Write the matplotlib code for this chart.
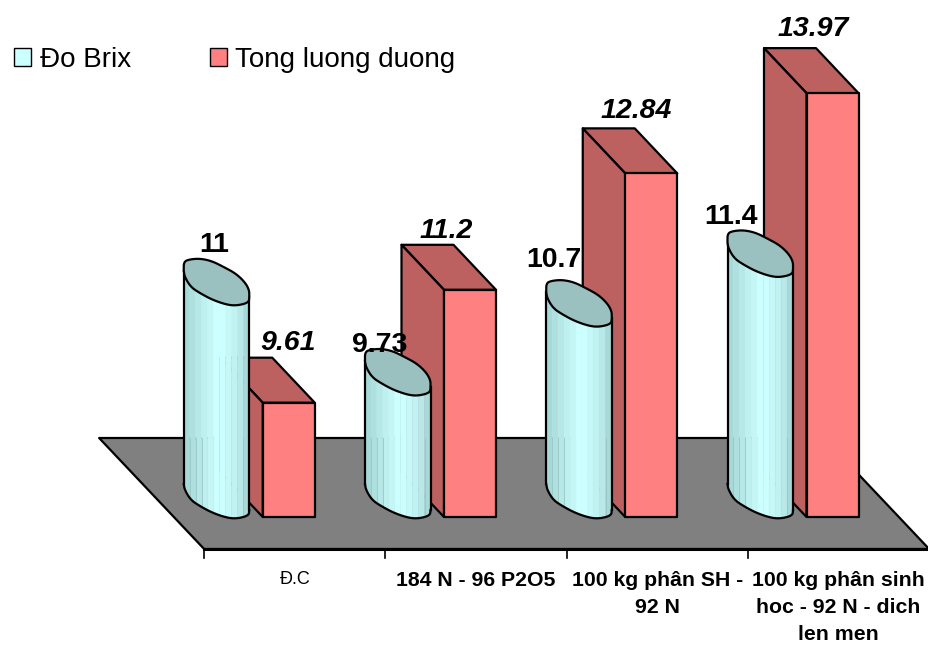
import numpy as np
import matplotlib
matplotlib.use("Agg")
import matplotlib.pyplot as plt
from matplotlib.patches import Patch

categories = ["Đ.C", "184 N - 96 P2O5", "100 kg phân SH -\n92 N", "100 kg phân sinh\nhoc - 92 N - dich\nlen men"]
brix = [11, 9.73, 10.7, 11.4]
tong_luong_duong = [9.61, 11.2, 12.84, 13.97]
brix_labels = ["11", "9.73", "10.7", "11.4"]
tld_labels = ["9.61", "11.2", "12.84", "13.97"]

# scale of the plot area, in pixels per category / per unit
PX_X = 181.25
PX_Y = 71.0
Y_BASE = 8

# label nudges from the bar anchor, in pixels
brix_label_dx = [-81, -96, -103, -107]
brix_label_dy = [59, 49, 65, 59]
tld_label_dx = [-7, -30, -21, -25]
tld_label_dy = [60, 59, 62, 64]

band_colors = ["#a8d9d9", "#aee0e0", "#b6e8e8", "#bef0f0", "#c4f6f6", "#ccffff",
               "#ccffff", "#c6f8f8", "#c0f2f2", "#b8e8e8", "#a8d8d8"]

# outline of the slanted end cap in pixels: x from the left side, y above the lowest point
cap_upper = [(0, 33), (0, 42), (5, 44.5), (16, 45.5), (28, 43), (40, 37), (52, 30.5), (61, 22), (65.5, 14), (65.5, 7)]
cap_lower = [(0, 33), (1, 27), (7, 17), (16, 11), (29, 4), (44, -1), (54, -1.5), (65, 1.5), (65.5, 7)]

plt.rcParams["font.family"] = ["Liberation Sans", "DejaVu Sans"]

fig = plt.figure(figsize=(9.29, 6.46), dpi=100)
ax = fig.add_axes([0, 0, 1, 1])
ax.set_xlim(-294.75 / PX_X, (929 - 294.75) / PX_X)
ax.set_ylim(Y_BASE - 129 / PX_Y, Y_BASE + 517 / PX_Y)
ax.axis("off")


def pt(cat, value, dx=0.0, dy=0.0):
    # category/value position shifted by a pixel offset (dy points up)
    return cat + dx / PX_X, value + dy / PX_Y


def poly(points, color, lw=1.6, z=2):
    xs, ys = zip(*points)
    ax.fill(xs, ys, facecolor=color, edgecolor="black", linewidth=lw, joinstyle="round", zorder=z)


def smooth(points, rounds=3):
    # corner cutting on an open line, the end points stay put
    pts = np.array(points, dtype=float)
    for _ in range(rounds):
        q = 0.75 * pts[:-1] + 0.25 * pts[1:]
        r = 0.25 * pts[:-1] + 0.75 * pts[1:]
        mid = np.empty((len(q) * 2, 2))
        mid[0::2] = q
        mid[1::2] = r
        pts = np.vstack([pts[0], mid, pts[-1]])
    return pts


upper_line = smooth(cap_upper)
lower_line = smooth(cap_lower)


def red_bar(cat, value, z):
    left, right = -32, 20
    depth_x, depth_y = -42.5, 45
    poly([pt(cat, value, left, 0), pt(cat, value, left + depth_x, depth_y),
          pt(cat, value, right + depth_x, depth_y), pt(cat, value, right, 0)], "#bd6060", z=z)
    poly([pt(cat, Y_BASE, left, 0), pt(cat, Y_BASE, left + depth_x, depth_y),
          pt(cat, value, left + depth_x, depth_y), pt(cat, value, left, 0)], "#bd6060", z=z)
    poly([pt(cat, Y_BASE, left, 0), pt(cat, Y_BASE, right, 0),
          pt(cat, value, right, 0), pt(cat, value, left, 0)], "#ff8080", z=z)


def brix_bar(cat, value, z):
    left = -111
    edges = np.linspace(0, 65.5, len(band_colors) + 1)
    for i, c in enumerate(band_colors):
        px = np.linspace(edges[i], edges[i + 1], 10)
        up = np.interp(px, lower_line[:, 0], lower_line[:, 1])
        xs = cat + (left + px) / PX_X
        top = value + up / PX_Y
        bottom = Y_BASE + up / PX_Y
        ax.fill(np.r_[xs, xs[::-1]], np.r_[top, bottom[::-1]], color=c, linewidth=0.3, zorder=z)
    # thin seams between the bands, near the floor
    for px in edges[1:4].tolist() + edges[-2:-1].tolist():
        up = np.interp(px, lower_line[:, 0], lower_line[:, 1])
        x = cat + (left + px) / PX_X
        ax.plot([x, x], [Y_BASE + up / PX_Y, Y_BASE + 79 / PX_Y], color="#9cc6c6", lw=0.6, zorder=z + 0.05)
    # outline of the body
    xs = cat + (left + lower_line[:, 0]) / PX_X
    y_low = Y_BASE + lower_line[:, 1] / PX_Y
    y_high = value + lower_line[:, 1] / PX_Y
    ax.plot(xs, y_low, color="black", lw=1.6, zorder=z + 0.1)
    ax.plot([xs[0], xs[0]], [y_low[0], y_high[0]], color="black", lw=1.6, zorder=z + 0.1)
    ax.plot([xs[-1], xs[-1]], [y_low[-1], y_high[-1]], color="black", lw=1.6, zorder=z + 0.1)
    # end cap
    outline = np.vstack([upper_line, lower_line[::-1]])
    cap_x = cat + (left + outline[:, 0]) / PX_X
    cap_y = value + outline[:, 1] / PX_Y
    ax.fill(cap_x, cap_y, facecolor="#9bc0c0", edgecolor="black", linewidth=1.6, zorder=z + 0.2)


# floor of the chart
floor_back = 79
floor_front = -32
poly([pt(-0.5, Y_BASE, 0, floor_front), pt(3.5, Y_BASE, 0, floor_front),
      pt(3.5, Y_BASE, -105, floor_back), pt(-0.5, Y_BASE, -105, floor_back)], "#808080", z=1)
ax.plot([-0.5, 3.5], [Y_BASE - 32 / PX_Y] * 2, color="black", lw=2.2, zorder=1.5)

# tick marks under the front edge
for edge in np.arange(-0.5, 4):
    ax.plot([edge, edge], [Y_BASE - 32 / PX_Y, Y_BASE - 41 / PX_Y], color="black", lw=1.2, zorder=1.5)

for i in range(len(categories)):
    red_bar(i, tong_luong_duong[i], 3 + i)
    brix_bar(i, brix[i], 3.5 + i)

# value labels
for i in range(len(categories)):
    x, y = pt(i, brix[i], brix_label_dx[i], brix_label_dy[i])
    ax.text(x, y, brix_labels[i], ha="center", va="center", fontsize=20.5, fontweight="bold", zorder=20)
    x, y = pt(i, tong_luong_duong[i], tld_label_dx[i], tld_label_dy[i])
    ax.text(x, y, tld_labels[i], ha="center", va="center", fontsize=20.5, fontweight="bold",
            fontstyle="italic", zorder=20)

# category names
for i, name in enumerate(categories):
    ax.text(i, Y_BASE - 54 / PX_Y, name, ha="center", va="top", fontsize=13 if i == 0 else 15.3,
            fontweight="normal" if i == 0 else "bold", linespacing=1.54, zorder=20)

handles = [Patch(facecolor="#ccffff", edgecolor="black", label="Đo Brix"),
           Patch(facecolor="#ff8080", edgecolor="black", label="Tong luong duong")]
ax.legend(handles=handles, loc="upper left", bbox_to_anchor=(0.0035, 0.945), ncol=2, frameon=False,
          fontsize=20, handlelength=0.61, handleheight=0.61, handletextpad=0.3,
          columnspacing=2.84, borderaxespad=0)

plt.savefig("out.png", dpi=100)
